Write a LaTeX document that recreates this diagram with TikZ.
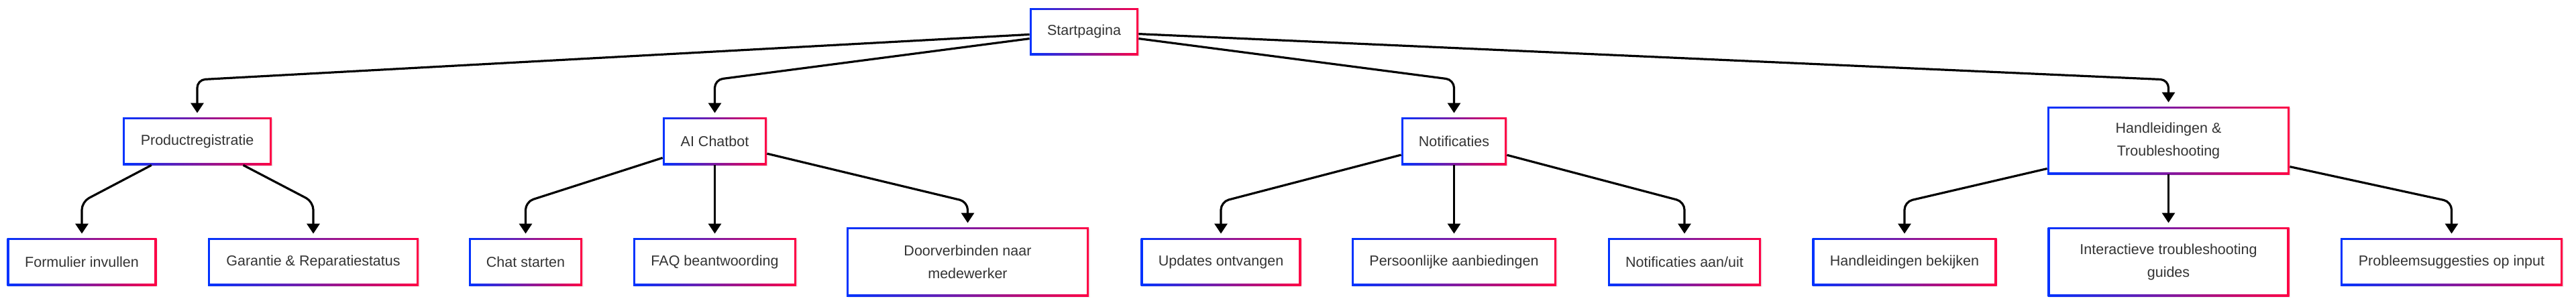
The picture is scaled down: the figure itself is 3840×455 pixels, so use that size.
\documentclass[tikz,border=0pt]{standalone}
\usepackage{fontspec}
\setmainfont{Liberation Sans}
\usetikzlibrary{arrows.meta,shadows}
\definecolor{gblue}{RGB}{0,51,255}
\definecolor{gred}{RGB}{255,0,68}
\definecolor{txt}{RGB}{51,51,51}
\tikzset{
  box/.style={rectangle, left color=gblue, right color=gred, text=txt,
    font=\fontsize{10.75}{17}\selectfont, align=center, inner sep=0pt,
    minimum height=35.5pt,
    path picture={\fill[white] ([shift={(1.7pt,-1.7pt)}]path picture bounding box.north west) rectangle ([shift={(-1.7pt,1.7pt)}]path picture bounding box.south east);},
    drop shadow={opacity=0.12, shadow xshift=0.8pt, shadow yshift=-1pt}},
  tall/.style={minimum height=51.5pt},
  conn/.style={draw=black, line width=1.6pt, rounded corners=6pt,
    -{Triangle[width=9.5pt,length=7.5pt]}, shorten >=3pt},
}
\begin{document}
\begin{tikzpicture}[x=0.5pt,y=-0.5pt]
\useasboundingbox (0,0) rectangle (3840,455);
\coordinate (l1) at (0,119);
\coordinate (l2) at (0,301);
% level 0
\node[box, minimum width=81pt, minimum height=35pt] (S) at (1616,47) {Startpagina};
% level 1
\node[box, minimum width=111pt] (P) at (294,210.5) {Productregistratie};
\node[box, minimum width=77.5pt] (A) at (1065.5,210.5) {AI Chatbot};
\node[box, minimum width=78.5pt] (N) at (2167.5,210.5) {Notificaties};
\node[box, tall, minimum width=180.5pt, minimum height=50.5pt] (H) at (3232.5,209.5) {Handleidingen \&\\Troubleshooting};
% level 2
\node[box, minimum width=111.5pt] (F) at (122,390.5) {Formulier invullen};
\node[box, minimum width=157pt] (G) at (467,390.5) {Garantie \& Reparatiestatus};
\node[box, minimum width=84.5pt] (C) at (783.5,390.5) {Chat starten};
\node[box, minimum width=121.5pt] (Q) at (1065.5,390.5) {FAQ beantwoording};
\node[box, tall, minimum width=180.5pt] (D) at (1442.5,390.5) {Doorverbinden naar\\medewerker};
\node[box, minimum width=119.5pt] (U) at (1820,390.5) {Updates ontvangen};
\node[box, minimum width=152.5pt] (PA) at (2167.5,390.5) {Persoonlijke aanbiedingen};
\node[box, minimum width=114pt] (NA) at (2511,390.5) {Notificaties aan/uit};
\node[box, minimum width=137.5pt] (HB) at (2839,390.5) {Handleidingen bekijken};
\node[box, tall, minimum width=180pt] (I) at (3232.5,390.5) {Interactieve troubleshooting\\guides};
\node[box, minimum width=165.5pt] (PS) at (3654.5,390.5) {Probleemsuggesties op input};
% connectors level 1
\draw[conn] (S) -- (P.north |- l1) -- (P.north);
\draw[conn] (S) -- (A.north |- l1) -- (A.north);
\draw[conn] (S) -- (N.north |- l1) -- (N.north);
\draw[conn] (S) -- (H.north |- l1) -- (H.north);
% connectors level 2
\draw[conn] (P) -- (F.north |- l2) -- (F.north);
\draw[conn] (P) -- (G.north |- l2) -- (G.north);
\draw[conn] (A) -- (C.north |- l2) -- (C.north);
\draw[conn] (A) -- (Q.north);
\draw[conn] (A) -- (D.north |- l2) -- (D.north);
\draw[conn] (N) -- (U.north |- l2) -- (U.north);
\draw[conn] (N) -- (PA.north);
\draw[conn] (N) -- (NA.north |- l2) -- (NA.north);
\draw[conn] (H) -- (HB.north |- l2) -- (HB.north);
\draw[conn] (H) -- (I.north);
\draw[conn] (H) -- (PS.north |- l2) -- (PS.north);
\end{tikzpicture}
\end{document}
